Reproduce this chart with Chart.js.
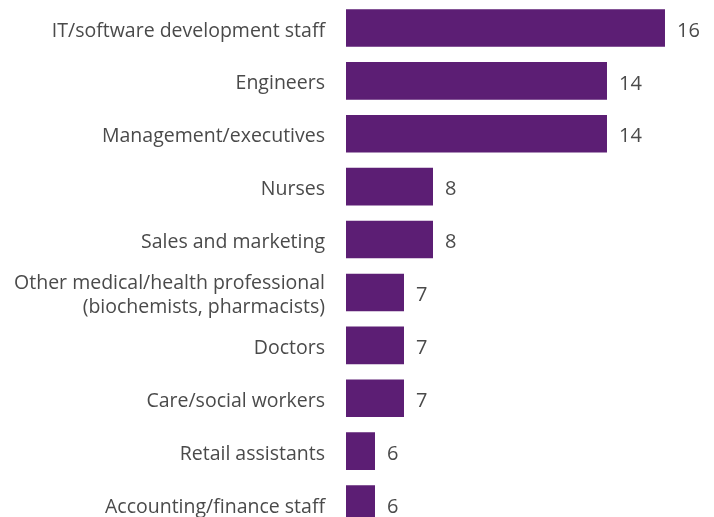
<!DOCTYPE html>
<html>
<head>
<meta charset="utf-8">
<script src="https://cdn.jsdelivr.net/npm/chart.js@4/dist/chart.umd.min.js"></script>
<style>
  html, body { margin: 0; padding: 0; background: #fff; overflow: hidden; }
  #wrap { position: relative; width: 714px; height: 532px; }
</style>
</head>
<body>
<div id="wrap"><canvas id="chart"></canvas></div>
<script>
// Occupations, top to bottom
const categories = [
  'IT/software development staff',
  'Engineers',
  'Management/executives',
  'Nurses',
  'Sales and marketing',
  ['Other medical/health professional', '(biochemists, pharmacists)'],
  'Doctors',
  'Care/social workers',
  'Retail assistants',
  'Accounting/finance staff'
];
const values = [16, 14, 14, 8, 8, 7, 7, 7, 6, 6];

const BAR = '#5c1e74';
const TEXT = '#4a4a4a';
const FONT = "'Open Sans', 'Noto Sans', sans-serif";

// value labels to the right of each bar
const valueLabels = {
  id: 'valueLabels',
  afterDatasetsDraw(chart) {
    const { ctx } = chart;
    const meta = chart.getDatasetMeta(0);
    ctx.save();
    ctx.fillStyle = TEXT;
    ctx.font = `20px ${FONT}`;
    ctx.textAlign = 'left';
    ctx.textBaseline = 'middle';
    meta.data.forEach((bar, i) => {
      ctx.fillText(String(values[i]), bar.x + 12, bar.y + 3);
    });
    ctx.restore();
  }
};

new Chart(document.getElementById('chart'), {
  type: 'bar',
  data: {
    labels: categories,
    datasets: [{
      data: values,
      backgroundColor: BAR,
      borderWidth: 0,
      barPercentage: 0.71,
      categoryPercentage: 1
    }]
  },
  options: {
    indexAxis: 'y',
    responsive: true,
    maintainAspectRatio: false,
    animation: false,
    layout: { padding: { top: 1.5, right: 0, bottom: 1.5, left: 0 } },
    plugins: { legend: { display: false }, tooltip: { enabled: false } },
    scales: {
      x: {
        display: false,
        min: 5,
        max: 17.69
      },
      y: {
        grid: { display: false, drawBorder: false },
        border: { display: false },
        ticks: {
          color: TEXT,
          font: { family: FONT, size: 19.5 },
          padding: 13,
          labelOffset: 3,
          autoSkip: false
        },
        afterFit(scale) {
          // fixed axis width, and no extra room above/below the bars
          scale.width = 346;
          scale.paddingTop = 0;
          scale.paddingBottom = 0;
        }
      }
    }
  },
  plugins: [valueLabels]
});
</script>
</body>
</html>
